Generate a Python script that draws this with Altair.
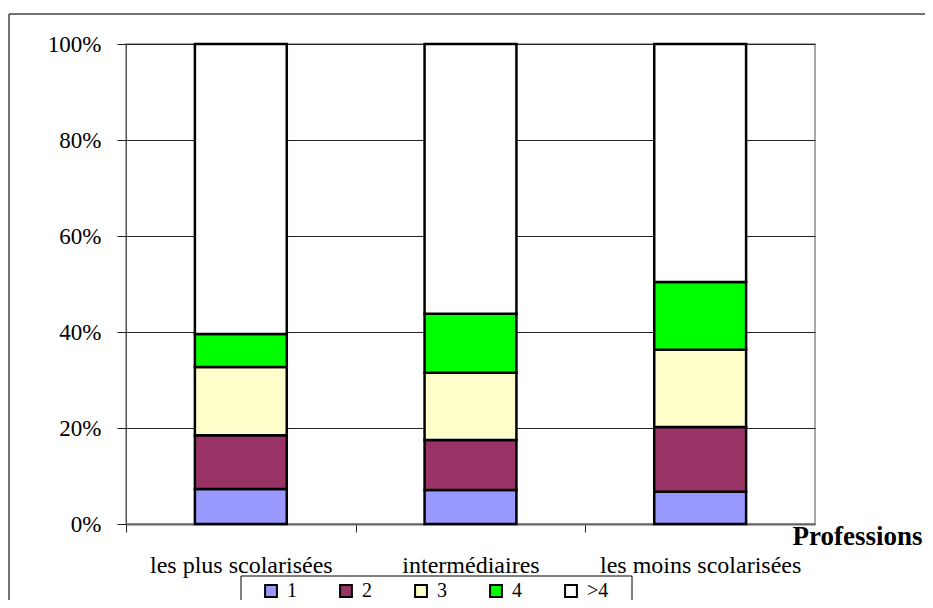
import altair as alt
import pandas as pd

categories = ["les plus scolarisées", "intermédiaires", "les moins scolarisées"]
groups = ["1", "2", "3", "4", ">4"]
colors = ["#9999FF", "#993366", "#FFFFCC", "#00FF00", "#FFFFFF"]
share_1 = [7.3, 7.1, 6.7]
share_2 = [11.2, 10.4, 13.5]
share_3 = [14.2, 14.0, 16.1]
share_4 = [6.9, 12.3, 14.1]
share_gt4 = [60.4, 56.2, 49.6]
y_ticks = [0, 0.2, 0.4, 0.6, 0.8, 1.0]

series = [share_1, share_2, share_3, share_4, share_gt4]
rows = []
for gi, (g, vals) in enumerate(zip(groups, series)):
    for c, v in zip(categories, vals):
        rows.append({"cat": c, "grp": g, "ord": gi, "val": v})
df = pd.DataFrame(rows)

FONT = "Liberation Serif"
W, H = 689, 480
half_step = W / len(categories) / 2

bars = alt.Chart(df).mark_bar(
    width=alt.RelativeBandSize(0.4), stroke="black", strokeWidth=2.5
).encode(
    x=alt.X(
        "cat:N", sort=categories,
        scale=alt.Scale(paddingInner=0, paddingOuter=0),
        axis=alt.Axis(
            title="Professions", labelAngle=0, labelFont=FONT, labelFontSize=24,
            labelColor="black", labelBaseline="alphabetic", labelPadding=40,
            labelLimit=400, labelOverlap=False,
            tickOffset=-half_step, labelOffset=half_step,
            tickSize=8, tickColor="#222", tickWidth=1,
            domainColor="#666", domainWidth=2,
            titleFont=FONT, titleFontSize=27, titleFontWeight="bold", titleColor="black",
            titleX=796, titleY=20, titleAlign="right", titleBaseline="alphabetic", titleAngle=0,
        ),
    ),
    y=alt.Y(
        "val:Q", stack="normalize",
        scale=alt.Scale(domain=[0, 1]),
        axis=alt.Axis(
            title=None, values=y_ticks, format=".0%", labelFont=FONT, labelFontSize=23,
            labelColor="black", labelPadding=16, tickSize=9, tickColor="#222",
            domainColor="#555", grid=True, gridColor="#222", gridWidth=1,
        ),
    ),
    color=alt.Color(
        "grp:N", scale=alt.Scale(domain=groups, range=colors),
        legend=alt.Legend(
            title=None, orient="none", legendX=135, legendY=537, direction="horizontal",
            symbolType="square", symbolSize=140, symbolStrokeColor="black",
            symbolStrokeWidth=2, labelFont=FONT, labelFontSize=20, labelColor="black",
            labelOffset=6, columnPadding=39, padding=0,
        ),
    ),
    order=alt.Order("ord:Q", sort="ascending"),
)

deco_df = pd.DataFrame({"k": [0]})
frame_top = alt.Chart(deco_df).mark_rule(stroke="#444", strokeWidth=1.5).encode(
    x=alt.value(-117), x2=alt.value(840), y=alt.value(-30)
)
frame_left = alt.Chart(deco_df).mark_rule(stroke="#444", strokeWidth=1.5).encode(
    x=alt.value(-117), y=alt.value(-30), y2=alt.value(640)
)
legend_box = alt.Chart(deco_df).mark_rect(
    fill="white", stroke="black", strokeWidth=1
).encode(
    x=alt.value(115), x2=alt.value(506), y=alt.value(532), y2=alt.value(660)
)

chart = alt.layer(frame_top, frame_left, legend_box, bars).properties(
    width=W, height=H,
    padding={"left": 118, "top": 36, "right": 110, "bottom": 76},
    autosize=alt.AutoSizeParams(type="none"),
    background="white",
).configure(font=FONT).configure_axis(
    labelFont=FONT, titleFont=FONT
).configure_legend(labelFont=FONT).configure_view(stroke="#8c8c8c", strokeWidth=1.5)

chart.save("out.html", embed_options={"renderer": "svg", "actions": False})
